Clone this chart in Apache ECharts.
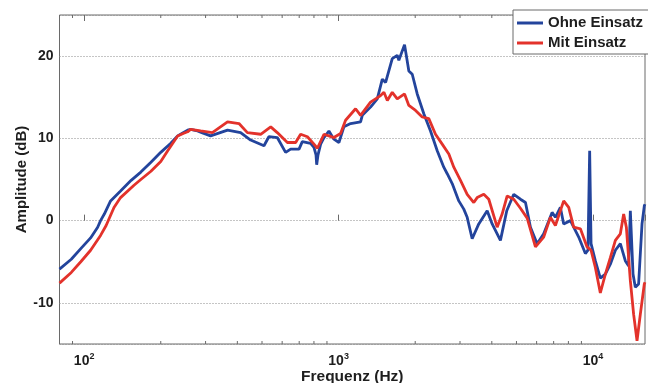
<!DOCTYPE html>
<html>
<head>
<meta charset="utf-8">
<script src="https://cdn.jsdelivr.net/npm/echarts@6/dist/echarts.min.js"></script>
<style>
html, body { margin: 0; padding: 0; background: #fff; }
#chart { width: 648px; height: 383px; }
</style>
</head>
<body>
<div id="chart"></div>
<script type="text/javascript">
	// Ohne Einsatz (blau)
	var ohneFreq = [80, 89, 97, 106, 113, 116, 120, 127, 139, 153, 167, 183, 200, 219, 233, 245, 255, 262, 279, 290, 314, 366, 412, 451, 509, 532, 574, 619, 648, 699, 720, 776, 800, 815, 820, 830, 850, 876, 916, 958, 1003, 1049, 1115, 1220, 1239, 1335, 1419, 1485, 1530, 1625, 1700, 1725, 1816, 1888, 1947, 2037, 2162, 2297, 2441, 2590, 2672, 2795, 2967, 3104, 3201, 3349, 3555, 3836, 4013, 4325, 4580, 4879, 5183, 5425, 5675, 6028, 6397, 6902, 7112, 7440, 7666, 8147, 8781, 9328, 9550, 9697, 9820, 10210, 10680, 11178, 11693, 12237, 12801, 13394, 13800, 14012, 14357, 14658, 15101, 15574, 15900, 16000];
	var ohneDb = [-5.9, -4.7, -3.4, -2.1, -0.8, 0, 0.8, 2.4, 3.6, 4.9, 5.9, 7.1, 8.3, 9.4, 10.3, 10.7, 11.0, 11.1, 10.9, 10.7, 10.3, 11.0, 10.7, 9.8, 9.1, 10.2, 10.1, 8.3, 8.7, 8.7, 9.6, 9.4, 8.9, 8.0, 6.8, 8.0, 9.3, 10.1, 10.9, 9.9, 9.5, 11.4, 11.8, 12.0, 12.8, 13.8, 14.8, 17.2, 16.8, 19.7, 20.1, 19.5, 21.4, 18.2, 17.8, 15.4, 13.0, 10.9, 8.5, 6.5, 5.7, 4.5, 2.4, 1.4, 0.4, -2.2, -0.4, 1.2, -0.4, -2.4, 1.2, 3.2, 2.6, 2.2, -0.8, -2.8, -1.6, 1.0, 0.4, 1.6, -0.4, 0, -2.0, -4.0, -3.6, 8.5, -2.8, -4.9, -7.0, -6.5, -5.3, -3.6, -2.8, -4.9, -5.5, 1.2, -6.5, -8.1, -7.7, -0.4, 1.8, 2.0];

	// Mit Einsatz (rot)
	var mitFreq = [80, 89, 97, 106, 116, 122, 131, 139, 157, 167, 183, 200, 213, 233, 245, 255, 262, 287, 319, 366, 406, 438, 494, 541, 574, 629, 678, 709, 754, 800, 825, 876, 916, 958, 1018, 1065, 1166, 1220, 1335, 1462, 1507, 1554, 1625, 1700, 1816, 1888, 2006, 2131, 2262, 2403, 2553, 2711, 2836, 3013, 3201, 3398, 3504, 3720, 3892, 4199, 4392, 4597, 4879, 5183, 5509, 5937, 6397, 6796, 7112, 7666, 8022, 8392, 8916, 9472, 9820, 10210, 10680, 11178, 11693, 12237, 12801, 13191, 13515, 14012, 14437, 14885, 15336, 15900, 16000];
	var mitDb = [-7.6, -6.3, -5.0, -3.6, -1.8, -0.6, 1.6, 2.8, 4.3, 5.0, 6.0, 7.2, 8.5, 10.3, 10.6, 10.8, 11.1, 10.9, 10.7, 12.0, 11.8, 10.7, 10.5, 11.4, 10.7, 9.5, 9.5, 10.5, 10.2, 9.3, 8.8, 10.5, 10.3, 10.1, 10.6, 12.2, 13.6, 12.8, 14.4, 15.2, 15.6, 14.6, 15.6, 14.8, 15.4, 14.0, 13.4, 12.6, 12.4, 10.5, 9.3, 8.1, 6.5, 4.9, 3.2, 2.2, 2.8, 3.2, 2.6, -0.8, 0.8, 3.0, 2.6, 1.5, 0.3, -3.2, -2.0, 0.4, -0.6, 2.4, 1.6, -0.8, -1.0, -3.2, -3.6, -5.7, -8.8, -6.5, -4.5, -2.4, -1.6, 0.8, -0.8, -7.3, -11.4, -14.6, -11.4, -7.7, -7.5];

	var seriesNames = ["Ohne Einsatz", "Mit Einsatz"];
	var minorTicks = [90, 200, 300, 400, 500, 600, 700, 800, 900, 2000, 3000, 4000, 5000, 6000, 7000, 8000, 9000];
	var xMin = 80, xMax = 16000, yMin = -15, yMax = 25;

	function pairs(fs, vs) {
		return fs.map(function(f, i) { return [f, vs[i]]; });
	}
	function isPow10(v) {
		var l = Math.log(v) / Math.LN10;
		return Math.abs(l - Math.round(l)) < 1e-6;
	}

	var txt = '#1e1e1e';
	var frame = '#6a6a6a';

	var option = {
		animation : false,
		textStyle : { fontFamily : 'Liberation Sans, Arial, sans-serif' },
		grid : {
			left : 59.5,
			right : 3,
			top : 15,
			bottom : 39,
			outerBoundsMode : 'none',
			containLabel : false,
			show : true,
			borderColor : frame,
			borderWidth : 1
		},
		legend : {
			data : seriesNames,
			left : 513,
			top : 10,
			orient : 'vertical',
			align : 'left',
			icon : 'rect',
			itemWidth : 26,
			itemHeight : 3,
			itemGap : 4,
			padding : [5, 6, 3, 4],
			backgroundColor : '#fff',
			borderColor : frame,
			borderWidth : 1,
			textStyle : { color : txt, fontSize : 15, fontWeight : 'bold', lineHeight : 16 }
		},
		xAxis : [ {
			type : 'log',
			logBase : 10,
			min : xMin,
			max : xMax,
			position : 'bottom',
			name : 'Frequenz (Hz)',
			nameLocation : 'middle',
			nameGap : 25,
			nameMoveOverlap : false,
			nameTextStyle : { color : txt, fontSize : 15.5, fontWeight : 'bold' },
			axisLine : { show : false },
			axisTick : { show : true, inside : true, length : 6, lineStyle : { color : frame } },
			splitLine : { show : false },
			axisLabel : {
				margin : 8,
				formatter : function(v) {
					if (!isPow10(v)) return '';
					return '{b|10}{s|' + Math.round(Math.log(v) / Math.LN10) + '}';
				},
				rich : {
					b : { color : txt, fontSize : 14, fontWeight : 'bold', lineHeight : 18 },
					s : { color : txt, fontSize : 9, fontWeight : 'bold', verticalAlign : 'top' }
				}
			}
		}, {
			type : 'log',
			logBase : 10,
			min : xMin,
			max : xMax,
			position : 'top',
			axisLine : { show : false },
			axisTick : { show : true, inside : true, length : 6, lineStyle : { color : frame } },
			axisLabel : { show : false },
			splitLine : { show : false }
		} ],
		yAxis : {
			type : 'value',
			min : yMin,
			max : yMax,
			splitNumber : 4,
			name : 'Amplitude (dB)',
			nameLocation : 'middle',
			nameGap : 30,
			nameMoveOverlap : false,
			nameTextStyle : { color : txt, fontSize : 15, fontWeight : 'bold' },
			axisLine : { show : false },
			axisTick : { show : false },
			axisLabel : {
				color : txt,
				fontSize : 14,
				fontWeight : 'bold',
				margin : 6,
				formatter : function(v) { return v % 10 === 0 ? String(v) : ''; }
			},
			splitLine : { show : true, lineStyle : { color : '#8a8a8a', type : [1, 2], width : 1 } }
		},
		series : [ {
			name : seriesNames[0],
			type : 'line',
			data : pairs(ohneFreq, ohneDb),
			symbol : 'none',
			color : '#23449c',
			lineStyle : { color : '#23449c', width : 2.8 }
		}, {
			name : seriesNames[1],
			type : 'line',
			data : pairs(mitFreq, mitDb),
			symbol : 'none',
			color : '#e3322b',
			lineStyle : { color : '#e3322b', width : 2.8 }
		}, {
			// kleine Teilstriche (2..9 x 10^n) unten und oben
			type : 'custom',
			silent : true,
			data : minorTicks.map(function(f) { return [f, yMin]; }),
			encode : { x : 0, y : 1 },
			renderItem : function(params, api) {
				var f = api.value(0);
				var b = api.coord([f, yMin]);
				var t = api.coord([f, yMax]);
				return {
					type : 'group',
					children : [
						{ type : 'line', shape : { x1 : b[0], y1 : b[1], x2 : b[0], y2 : b[1] - 3 }, style : { stroke : frame, lineWidth : 1 } },
						{ type : 'line', shape : { x1 : t[0], y1 : t[1], x2 : t[0], y2 : t[1] + 3 }, style : { stroke : frame, lineWidth : 1 } }
					]
				};
			}
		} ]
	};

	var chart = echarts.init(document.getElementById('chart'));
	chart.setOption(option);
</script>
</body>
</html>
